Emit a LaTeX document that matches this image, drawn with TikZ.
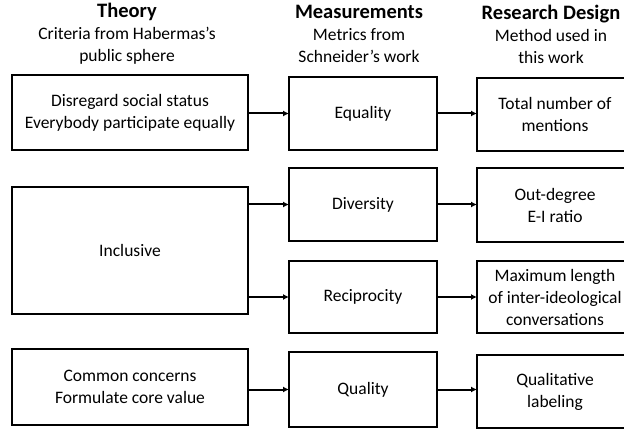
\documentclass[tikz,border=0pt]{standalone}
\usepackage{fontspec}
\setmainfont{Carlito}
\usetikzlibrary{arrows.meta}

\begin{document}
\begin{tikzpicture}[x=1pt,y=-1pt,
  box/.style={draw,line width=2pt,align=center,inner sep=2pt,outer sep=0pt,
    font=\fontsize{17.5}{22}\selectfont},
  head/.style={align=center,font=\fontsize{17.5}{22}\selectfont},
  arr/.style={line width=2pt,-{Latex[length=6pt,width=6pt]}}]
\useasboundingbox (0,0) rectangle (624,430);
\clip (0,0) rectangle (624,430);
% column headings
\node [head] (hth) at (127,34) {{\fontsize{20.5}{22}\selectfont\bfseries Theory}\\Criteria from Habermas's\\public sphere};
\node [head] (hme) at (359,34) {{\fontsize{20.5}{22}\selectfont\bfseries Measurements}\\Metrics from\\Schneider's work};
\node [head] (hrd) at (551,34) {{\fontsize{20.5}{22}\selectfont\bfseries Research Design}\\Method used in\\this work};
% theory
\node [box, minimum width=236, minimum height=75] (disr) at (130,112.5) {Disregard social status\\Everybody participate equally};
\node [box, minimum width=236, minimum height=127] (incl) at (130,250.5) {Inclusive};
\node [box, minimum width=236, minimum height=76] (comm) at (130,387) {Common concerns\\Formulate core value};
% measurements
\node [box, minimum width=148, minimum height=73] (equa) at (363,113.5) {Equality};
\node [box, minimum width=148, minimum height=73] (dive) at (363,204.5) {Diversity};
\node [box, minimum width=148, minimum height=72] (reci) at (363,297) {Reciprocity};
\node [box, minimum width=148, minimum height=75] (qual) at (363,389.5) {Quality};
% research design
\node [box, minimum width=156, minimum height=73] (tota) at (555,114.5) {Total number of\\mentions};
\node [box, minimum width=156, minimum height=74] (outd) at (555,205) {Out-degree\\E-I ratio};
\node [box, minimum width=156, minimum height=72] (maxl) at (555,297) {Maximum length\\of inter-ideological\\conversations};
\node [box, minimum width=156, minimum height=73] (qlab) at (555,391.5) {Qualitative\\labeling};
% arrows
\draw [arr] (disr.east |- equa.west) -- (equa.west);
\draw [arr] (incl.east |- dive.west) -- (dive.west);
\draw [arr] (incl.east |- reci.west) -- (reci.west);
\draw [arr] (comm.east |- qual.west) -- (qual.west);
\draw [arr] (equa.east) -- (equa.east -| tota.west);
\draw [arr] (dive.east) -- (dive.east -| outd.west);
\draw [arr] (reci.east) -- (reci.east -| maxl.west);
\draw [arr] (qual.east) -- (qual.east -| qlab.west);
\end{tikzpicture}
\end{document}
